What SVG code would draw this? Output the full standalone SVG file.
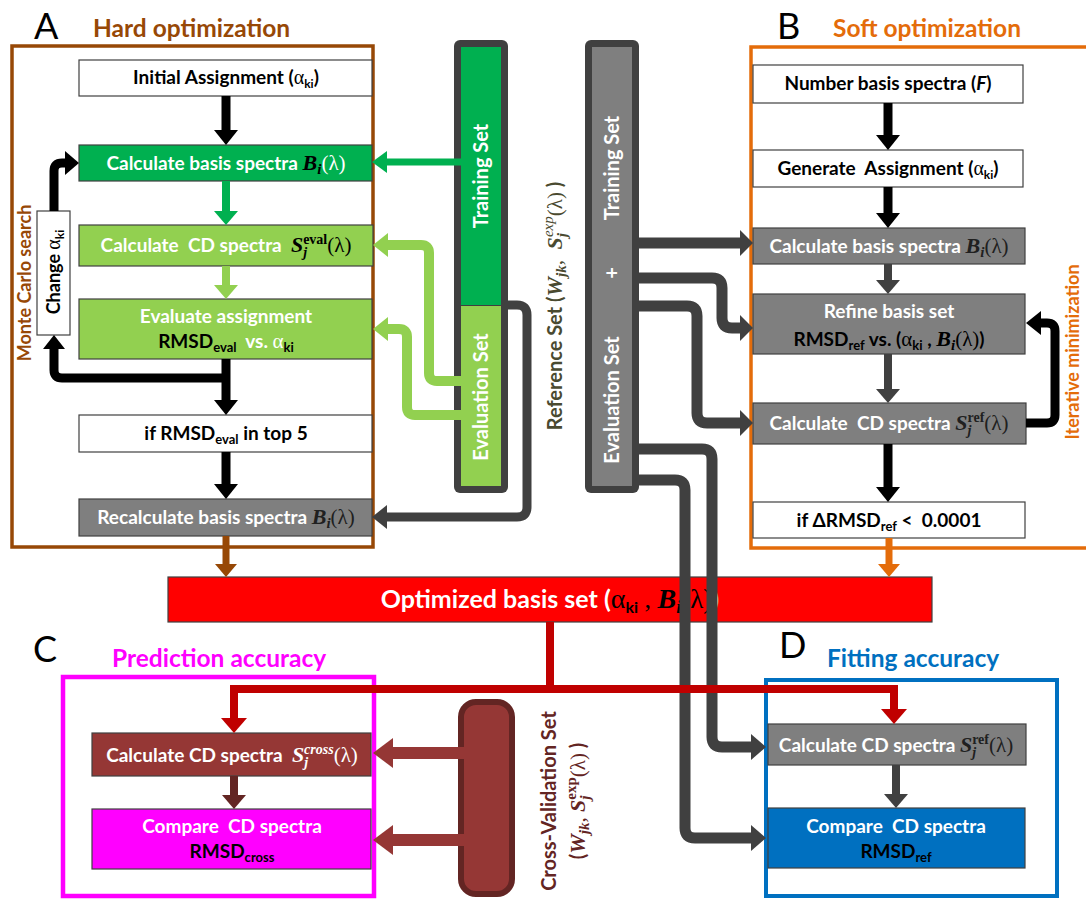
<svg xmlns="http://www.w3.org/2000/svg" width="1086" height="900" viewBox="0 0 1086 900">
<style>
text { font-family: Lato, "Open Sans", "DejaVu Sans", sans-serif; font-weight: 700; }
.bx { font-size: 19px; text-anchor: middle; }
.pre { white-space: pre; }
.w { fill: #fff; }
.k { fill: #000; }
.box { stroke: #404040; stroke-width: 1.2; }
.frame { fill: none; }
.big { font-size: 36px; font-weight: 400; fill: #000; }
.ttl { font-size: 24.5px; }
.rot { text-anchor: middle; }
.sr { font-family: "Liberation Serif", "DejaVu Serif", serif; font-weight: 400; font-style: normal; }
.si { font-family: "Liberation Serif", "DejaVu Serif", serif; font-weight: 700; font-style: italic; }
.sb { font-family: "Liberation Serif", "DejaVu Serif", serif; font-weight: 700; font-style: normal; }
.ii { font-family: "Liberation Serif", "DejaVu Serif", serif; font-weight: 400; font-style: italic; }
</style>

<!-- Panel frames and titles -->
<g id="panelA">
  <rect class="frame" x="12" y="46" width="361" height="501" stroke="#974806" stroke-width="3.5"/>
  <text class="big" x="34" y="39">A</text>
  <text class="ttl" x="93" y="37" fill="#974806">Hard optimization</text>
  <text class="rot" font-size="18" fill="#974806" transform="translate(25,283) rotate(-90)" y="6">Monte Carlo search</text>
</g>
<g id="panelB">
  <rect class="frame" x="751" y="47" width="400" height="501" stroke="#e46c0a" stroke-width="3.5"/>
  <text class="big" x="777" y="39">B</text>
  <text class="ttl" x="833" y="37" fill="#e46c0a">Soft optimization</text>
  <text class="rot" font-size="18" fill="#e46c0a" transform="translate(1073,352) rotate(-90)" y="6">Iterative minimization</text>
</g>
<g id="panelC">
  <rect class="frame" x="63" y="677" width="311" height="219" stroke="#ff00ff" stroke-width="4.5"/>
  <text class="big" x="33" y="662">C</text>
  <text class="ttl" x="112" y="667" fill="#ff00ff">Prediction accuracy</text>
</g>
<g id="panelD">
  <rect class="frame" x="766" y="680" width="291" height="216" stroke="#0070c0" stroke-width="4"/>
  <text class="big" x="779" y="658">D</text>
  <text class="ttl" x="827" y="667" fill="#0070c0">Fitting accuracy</text>
</g>

<!-- Panel A nodes -->
<g id="a-initial">
  <rect class="box" x="79" y="60" width="293" height="36" fill="#fff"/>
  <text class="bx k" x="226" y="84">Initial Assignment (<tspan class="sr" font-size="20">α</tspan><tspan font-size="12" dy="4">ki</tspan><tspan dy="-4">)</tspan></text>
</g>
<g id="a-calcbasis">
  <rect class="box" x="79" y="145" width="293" height="36" fill="#00b050"/>
  <text class="bx w" x="226" y="170">Calculate basis spectra <tspan class="si" font-size="22" fill="#000">B</tspan><tspan class="si" font-size="15" dy="4" fill="#000">i</tspan><tspan class="sr" font-size="21" dy="-4">(λ)</tspan></text>
</g>
<g id="a-calccd">
  <rect class="box" x="79" y="225" width="294" height="41" fill="#92d050"/>
  <text class="bx w pre" x="226" y="252">Calculate  CD spectra  <tspan class="si" font-size="22" fill="#000">S</tspan><tspan class="si" font-size="14" dy="5" fill="#000">j</tspan><tspan class="sb" font-size="14" dx="-4" dy="-13" fill="#000">eval</tspan><tspan class="sr" font-size="21" dy="8" fill="#000">(λ)</tspan></text>
</g>
<g id="a-evaluate">
  <rect class="box" x="79" y="299" width="293" height="60" fill="#92d050"/>
  <text class="bx w" x="226" y="323">Evaluate assignment</text>
  <text class="bx w pre" x="226" y="348"><tspan fill="#000">RMSD</tspan><tspan fill="#000" font-size="13" dy="4">eval</tspan><tspan dy="-4">  vs. </tspan><tspan class="sr" font-size="21">α</tspan><tspan font-size="13" dy="4" fill="#000">ki</tspan></text>
</g>
<g id="a-top5">
  <rect class="box" x="79" y="415" width="293" height="37" fill="#fff"/>
  <text class="bx k" x="226" y="440">if RMSD<tspan font-size="13" dy="4">eval</tspan><tspan dy="-4"> in top 5</tspan></text>
</g>
<g id="a-recalc">
  <rect class="box" x="79" y="499" width="293" height="37" fill="#7f7f7f"/>
  <text class="bx w" x="226" y="524">Recalculate basis spectra  <tspan class="si" font-size="22" fill="#202020">B</tspan><tspan class="si" font-size="15" dy="4" fill="#202020">i</tspan><tspan class="sr" font-size="21" dy="-4" fill="#202020">(λ)</tspan></text>
</g>
<g id="a-change">
  <rect class="box" x="37" y="211" width="33" height="124" fill="#fff"/>
  <text class="rot k" font-size="18" transform="translate(54,272) rotate(-90)" y="6">Change <tspan class="sr" font-size="20">α</tspan><tspan font-size="12" dy="4">ki</tspan></text>
</g>

<!-- Reference set bars -->
<g id="ref-bar-green">
  <rect x="454" y="40" width="54" height="453" rx="6" fill="#404040"/>
  <rect x="461" y="47" width="40" height="258" fill="#00b050"/>
  <rect x="461" y="306" width="40" height="180" fill="#92d050"/>
  <text class="rot w" font-size="20" transform="translate(481,176) rotate(-90)" y="7">Training Set</text>
  <text class="rot w" font-size="20" transform="translate(481,397) rotate(-90)" y="7">Evaluation Set</text>
</g>
<g id="ref-label">
  <text class="rot pre" font-size="20" fill="#4a4a30" transform="translate(555,306) rotate(-90)" y="7">Reference Set (<tspan class="si" font-size="22">W</tspan><tspan class="si" font-size="15" dy="4">jk</tspan><tspan class="sr" font-size="21" dy="-4">,  </tspan><tspan class="si" font-size="22">S</tspan><tspan class="si" font-size="15" dy="5">j</tspan><tspan class="ii" font-size="15" dx="-4" dy="-14">exp</tspan><tspan class="sr" font-size="21" dy="9">(λ)</tspan> )</text>
</g>
<g id="ref-bar-gray">
  <rect x="585" y="40" width="54" height="453" rx="6" fill="#404040"/>
  <rect x="592" y="47" width="40" height="439" fill="#7f7f7f"/>
  <text class="rot w" font-size="20" transform="translate(612,168) rotate(-90)" y="7">Training Set</text>
  <text class="rot w" font-size="20" transform="translate(612,273) rotate(-90)" y="7">+</text>
  <text class="rot w" font-size="20" transform="translate(612,400) rotate(-90)" y="7">Evaluation Set</text>
</g>

<!-- Panel B nodes -->
<g id="b-number">
  <rect class="box" x="753" y="65" width="270" height="38" fill="#fff"/>
  <text class="bx k" x="888" y="90">Number basis spectra (<tspan font-style="italic">F</tspan>)</text>
</g>
<g id="b-generate">
  <rect class="box" x="753" y="150" width="270" height="37" fill="#fff"/>
  <text class="bx k pre" x="888" y="175">Generate  Assignment (<tspan class="sr" font-size="20">α</tspan><tspan font-size="12" dy="4">ki</tspan><tspan dy="-4">)</tspan></text>
</g>
<g id="b-calcbasis">
  <rect class="box" x="753" y="228" width="272" height="36" fill="#7f7f7f"/>
  <text class="bx w" x="889" y="253">Calculate basis spectra <tspan class="si" font-size="22" fill="#202020">B</tspan><tspan class="si" font-size="15" dy="4" fill="#202020">i</tspan><tspan class="sr" font-size="21" dy="-4" fill="#202020">(λ)</tspan></text>
</g>
<g id="b-refine">
  <rect class="box" x="753" y="294" width="272" height="60" fill="#7f7f7f"/>
  <text class="bx w" x="889" y="318">Refine basis set</text>
  <text class="bx k" x="889" y="346">RMSD<tspan font-size="13" dy="4">ref</tspan><tspan dy="-4"> vs. (</tspan><tspan class="sr" font-size="21">α</tspan><tspan font-size="13" dy="4">ki</tspan><tspan dy="-4"> , </tspan><tspan class="si" font-size="22">B</tspan><tspan class="si" font-size="15" dy="4">i</tspan><tspan class="sr" font-size="21" dy="-4">(λ)</tspan>)</text>
</g>
<g id="b-calccd">
  <rect class="box" x="753" y="403" width="273" height="41" fill="#7f7f7f"/>
  <text class="bx w pre" x="889" y="430">Calculate  CD spectra <tspan class="si" font-size="22" fill="#202020">S</tspan><tspan class="si" font-size="14" dy="5" fill="#202020">j</tspan><tspan class="sb" font-size="14" dx="-4" dy="-13" fill="#202020">ref</tspan><tspan class="sr" font-size="21" dy="8" fill="#202020">(λ)</tspan></text>
</g>
<g id="b-delta">
  <rect class="box" x="753" y="502" width="272" height="36" fill="#fff"/>
  <text class="bx k pre" x="889" y="527">if ΔRMSD<tspan font-size="13" dy="4">ref</tspan><tspan dy="-4"> &lt;  0.0001</tspan></text>
</g>

<!-- Optimized basis set -->
<g id="optimized">
  <rect class="box" x="168" y="577" width="764" height="45" fill="#ff0000"/>
  <text class="w" font-size="25" text-anchor="middle" x="550" y="608">Optimized basis set (<tspan class="sr" font-size="28" fill="#000">α</tspan><tspan font-size="16" dy="5" fill="#000">ki</tspan><tspan class="sr" font-size="26" dy="-5" fill="#000"> , </tspan><tspan class="si" font-size="28" fill="#000">B</tspan><tspan class="si" font-size="18" dy="5" fill="#000">i</tspan><tspan class="sr" font-size="27" dy="-5" fill="#000">(λ)</tspan>)</text>
</g>

<!-- Panel C nodes -->
<g id="c-calccd">
  <rect class="box" x="92" y="733" width="279" height="43" fill="#953735"/>
  <text class="bx w pre" x="232" y="762">Calculate CD spectra  <tspan class="si" font-size="22">S</tspan><tspan class="si" font-size="14" dy="5">j</tspan><tspan class="si" font-size="14" dx="-4" dy="-13">cross</tspan><tspan class="sr" font-size="21" dy="8">(λ)</tspan></text>
</g>
<g id="c-compare">
  <rect class="box" x="92" y="809" width="279" height="60" fill="#ff00ff"/>
  <text class="bx w pre" x="232" y="833">Compare  CD spectra</text>
  <text class="bx k" x="232" y="858">RMSD<tspan font-size="13" dy="4">cross</tspan></text>
</g>
<g id="cross-bar">
  <rect x="461" y="702" width="51" height="192" rx="15" fill="#953735" stroke="#632523" stroke-width="6"/>
</g>
<g id="cross-label">
  <text class="rot" font-size="20" fill="#632523" transform="translate(549,801) rotate(-90)" y="7">Cross-Validation Set</text>
  <text class="rot" font-size="20" fill="#632523" transform="translate(578,801) rotate(-90)" y="7">(<tspan class="si" font-size="22">W</tspan><tspan class="si" font-size="15" dy="4">jk</tspan><tspan class="sr" font-size="21" dy="-4">, </tspan><tspan class="si" font-size="22">S</tspan><tspan class="si" font-size="15" dy="5">j</tspan><tspan class="sb" font-size="15" dx="-4" dy="-14">exp</tspan><tspan class="sr" font-size="21" dy="9">(λ)</tspan> )</text>
</g>

<!-- Panel D nodes -->
<g id="d-calccd">
  <rect class="box" x="768" y="724" width="258" height="41" fill="#7f7f7f"/>
  <text class="bx w" x="896" y="752">Calculate CD spectra <tspan class="si" font-size="22" fill="#202020">S</tspan><tspan class="si" font-size="14" dy="5" fill="#202020">j</tspan><tspan class="sb" font-size="14" dx="-4" dy="-13" fill="#202020">ref</tspan><tspan class="sr" font-size="21" dy="8" fill="#202020">(λ)</tspan></text>
</g>
<g id="d-compare">
  <rect class="box" x="768" y="808" width="257" height="60" fill="#0070c0"/>
  <text class="bx w pre" x="896" y="833">Compare  CD spectra</text>
  <text class="bx k" x="896" y="858">RMSD<tspan font-size="13" dy="4">ref</tspan></text>
</g>

<!-- Connectors -->
<g id="connectors" fill="none" stroke-linecap="butt">
  <!-- Panel A black -->
  <path d="M226,96 V131" stroke="#000" stroke-width="9"/>
  <polygon points="214,130 238,130 226,145" fill="#000"/>
  <path d="M226,359 V401" stroke="#000" stroke-width="9"/>
  <polygon points="214,400 238,400 226,415" fill="#000"/>
  <path d="M226,452 V485" stroke="#000" stroke-width="9"/>
  <polygon points="214,484 238,484 226,499" fill="#000"/>
  <path d="M230,378 H62 Q54,378 54,370 V348" stroke="#000" stroke-width="9"/>
  <polygon points="43,349 65,349 54,335" fill="#000"/>
  <path d="M54,211 V171 Q54,163 62,163 H66" stroke="#000" stroke-width="9"/>
  <polygon points="65,151 65,175 79,163" fill="#000"/>
  <!-- Panel A colored -->
  <path d="M226,181 V212" stroke="#00b050" stroke-width="8"/>
  <polygon points="214,211 238,211 226,225" fill="#00b050"/>
  <path d="M226,266 V286" stroke="#92d050" stroke-width="8"/>
  <polygon points="214,285 238,285 226,299" fill="#92d050"/>
  <path d="M226,536 V565" stroke="#974806" stroke-width="7"/>
  <polygon points="215,564 237,564 226,577" fill="#974806"/>
  <!-- Reference bar to panel A -->
  <path d="M462,162 H386" stroke="#00b050" stroke-width="7"/>
  <polygon points="387,151 387,173 372,162" fill="#00b050"/>
  <path d="M462,381 H437 Q429,381 429,373 V253 Q429,245 421,245 H387" stroke="#92d050" stroke-width="10"/>
  <polygon points="388,233 388,257 373,245" fill="#92d050"/>
  <path d="M462,415 H415 Q407,415 407,407 V337 Q407,329 399,329 H387" stroke="#92d050" stroke-width="10"/>
  <polygon points="388,317 388,341 373,329" fill="#92d050"/>
  <path d="M502,305 H517 Q527,305 527,315 V507 Q527,517 517,517 H386" stroke="#404040" stroke-width="9"/>
  <polygon points="387,505 387,529 372,517" fill="#404040"/>
  <!-- Panel B -->
  <path d="M888,103 V136" stroke="#000" stroke-width="9"/>
  <polygon points="876,135 900,135 888,150" fill="#000"/>
  <path d="M888,187 V214" stroke="#000" stroke-width="9"/>
  <polygon points="876,213 900,213 888,228" fill="#000"/>
  <path d="M888,264 V281" stroke="#404040" stroke-width="8"/>
  <polygon points="876,280 900,280 888,294" fill="#404040"/>
  <path d="M888,354 V390" stroke="#404040" stroke-width="8"/>
  <polygon points="876,389 900,389 888,403" fill="#404040"/>
  <path d="M888,444 V488" stroke="#000" stroke-width="9"/>
  <polygon points="876,487 900,487 888,502" fill="#000"/>
  <path d="M1026,423 H1047 Q1055,423 1055,415 V331 Q1055,323 1047,323 H1040" stroke="#000" stroke-width="9"/>
  <polygon points="1041,311 1041,335 1026,323" fill="#000"/>
  <path d="M889,538 V565" stroke="#e46c0a" stroke-width="7"/>
  <polygon points="878,564 900,564 889,577" fill="#e46c0a"/>
  <!-- Gray reference bar to B and D -->
  <path d="M636,243 H741" stroke="#404040" stroke-width="11"/>
  <polygon points="740,230 740,256 753,243" fill="#404040"/>
  <path d="M636,278 H712 Q722,278 722,288 V318 Q722,328 732,328 H741" stroke="#404040" stroke-width="11"/>
  <polygon points="740,315 740,341 753,328" fill="#404040"/>
  <path d="M636,306 H687 Q697,306 697,316 V413 Q697,423 707,423 H741" stroke="#404040" stroke-width="11"/>
  <polygon points="740,410 740,436 753,423" fill="#404040"/>
  <path d="M636,449 H702 Q712,449 712,459 V737 Q712,747 722,747 H752" stroke="#404040" stroke-width="11"/>
  <polygon points="751,734 751,760 766,747" fill="#404040"/>
  <path d="M636,480 H675 Q685,480 685,490 V828 Q685,838 695,838 H752" stroke="#404040" stroke-width="11"/>
  <polygon points="751,825 751,851 766,838" fill="#404040"/>
  <!-- Optimized set to C and D -->
  <path d="M550,622 V689" stroke="#c00000" stroke-width="8"/>
  <path d="M234,720 V689 H894 V711" stroke="#c00000" stroke-width="8"/>
  <polygon points="221,718 247,718 234,733" fill="#c00000"/>
  <polygon points="881,709 907,709 894,724" fill="#c00000"/>
  <!-- Panel C -->
  <path d="M234,776 V796" stroke="#632523" stroke-width="8"/>
  <polygon points="222,795 246,795 234,809" fill="#632523"/>
  <path d="M466,753 H392" stroke="#953735" stroke-width="12"/>
  <polygon points="393,738 393,768 373,753" fill="#953735"/>
  <path d="M466,840 H392" stroke="#953735" stroke-width="12"/>
  <polygon points="393,825 393,855 373,840" fill="#953735"/>
  <!-- Panel D -->
  <path d="M896,765 V795" stroke="#404040" stroke-width="8"/>
  <polygon points="884,794 908,794 896,808" fill="#404040"/>
</g>
</svg>
